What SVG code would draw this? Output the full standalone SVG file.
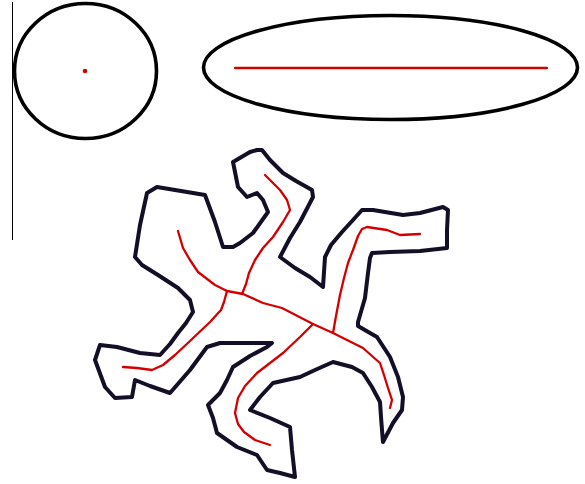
<svg xmlns="http://www.w3.org/2000/svg" width="585" height="484" viewBox="0 0 585 484">
<style>
.shape{fill:none;stroke:#000;stroke-width:3.6}
.outline{fill:none;stroke:#140f26;stroke-width:4;stroke-linejoin:round}
.bone{fill:none;stroke:#d40000;stroke-width:2.3;stroke-linecap:round;stroke-linejoin:round}
</style>
<rect width="585" height="484" fill="#fff"/>
<line x1="12.5" y1="2" x2="12.5" y2="240" stroke="#000" stroke-width="1"/>
<g id="circle">
<ellipse class="shape" cx="85.5" cy="71" rx="71" ry="67.5"/>
<circle cx="85" cy="71" r="2.3" fill="#d40000"/>
</g>
<g id="ellipse">
<ellipse class="shape" cx="390.5" cy="67.5" rx="187" ry="52"/>
<line class="bone" x1="235" y1="68" x2="547" y2="68" stroke-linecap="butt"/>
</g>
<g id="lizard">
<path class="outline" d="M233,162 L250,152 L257,150 L262,150 L270,160 L283,173 L296,181 L312,190 L313,197 L300,222 L290,238 L280,257 L295,268 L310,277 L323,287 L325,257 L331,245 L342,232 L353,220 L362,210 L373,210 L403,215 L420,213 L443,207 L448,210 L447,230 L447,248 L420,251 L390,252 L372,253 L370,258 L368,273 L365,298 L358,322 L358,326 L370,333 L377,337 L390,357 L398,377 L403,397 L402,410 L393,423 L383,442 L382,430 L381,417 L380,402 L372,387 L363,373 L352,367 L333,362 L315,370 L300,377 L273,383 L260,397 L250,410 L270,418 L290,427 L292,450 L295,477 L280,473 L267,470 L257,455 L237,447 L217,433 L213,418 L208,405 L220,393 L227,380 L233,367 L250,356 L267,347 L272,343 L245,343 L220,343 L207,347 L190,370 L170,393 L150,386 L135,380 L132,397 L115,398 L105,387 L95,360 L100,345 L117,347 L140,353 L160,355 L170,344 L178,333 L186,323 L193,312 L190,300 L178,288 L158,275 L142,265 L135,257 L140,225 L147,193 L157,187 L175,190 L205,195 L215,222 L223,247 L233,247 L240,243 L253,233 L268,212 L263,200 L257,193 L247,197 L238,187 Z"/>
</g>
<g id="skeleton">
<path class="bone" d="M178,231 L183,248 L190,260 L198,272 L215,285 L227,291 L243,294 L263,303 L282,308 L313,324 L333,333 L353,343 L363,348 L372,356 L380,363 L384,375 L388,388 L392,400 L390,408"/>
<path class="bone" d="M265,175 L280,190 L287,200 L290,210 L283,222 L273,237 L263,248 L255,260 L249,273 L246,284 L242,294"/>
<path class="bone" d="M227,291 L224,302 L221,310 L210,322 L190,341 L175,355 L163,365 L152,370 L137,368 L123,367"/>
<path class="bone" d="M333,333 L336,316 L340,295 L344,278 L348,263 L353,250 L358,236 L362,229 L367,227 L387,230 L400,235 L420,234"/>
<path class="bone" d="M313,324 L300,337 L283,353 L257,373 L245,386 L238,398 L235,413 L238,424 L244,432 L255,440 L270,445"/>
</g>
</svg>
